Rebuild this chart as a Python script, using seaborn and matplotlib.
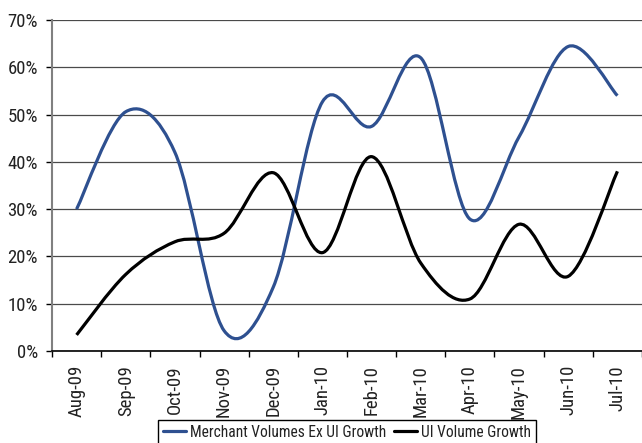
import numpy as np
import pandas as pd
import matplotlib
matplotlib.use("Agg")
import matplotlib.pyplot as plt
from matplotlib.path import Path
from matplotlib.patches import PathPatch
from matplotlib.lines import Line2D
from matplotlib.ticker import PercentFormatter
import seaborn as sns

months = ["Aug-09", "Sep-09", "Oct-09", "Nov-09", "Dec-09", "Jan-10",
          "Feb-10", "Mar-10", "Apr-10", "May-10", "Jun-10", "Jul-10"]
merchant_ex_ui = [30.0, 50.6, 42.0, 4.3, 13.5, 52.7, 47.5, 62.0, 27.9, 45.3, 64.4, 54.0]
ui_volume = [3.4, 16.2, 23.1, 24.9, 37.7, 20.8, 41.1, 18.6, 11.0, 26.8, 15.8, 38.0]
series_names = ["Merchant Volumes Ex UI Growth", "UI Volume Growth"]
series_colors = ["#2E5090", "#000000"]
y_ticks = [0, 10, 20, 30, 40, 50, 60, 70]

sns.set_theme(style="white")
plt.rcParams["font.family"] = ["Roboto Condensed", "DejaVu Sans"]

df = pd.DataFrame({
    "month": months * 2,
    "growth": merchant_ex_ui + ui_volume,
    "series": [series_names[0]] * len(months) + [series_names[1]] * len(months),
})

fig = plt.figure(figsize=(6.42, 4.43), dpi=100)
ax = fig.add_axes([52 / 642, 1 - 351 / 443, 1 - 52 / 642, (351 - 20) / 443])

sns.lineplot(data=df, x="month", y="growth", hue="series", sort=False,
             palette=dict(zip(series_names, series_colors)), legend=False, ax=ax)


def smooth_path(x, y):
    """Cubic Bezier path through the points (Catmull-Rom style tangents)."""
    x = np.asarray(x, float)
    y = np.asarray(y, float)
    n = len(x)
    verts = [(x[0], y[0])]
    codes = [Path.MOVETO]
    for i in range(n - 1):
        i0 = max(i - 1, 0)
        i3 = min(i + 2, n - 1)
        c1 = (x[i] + (x[i + 1] - x[i0]) / 6, y[i] + (y[i + 1] - y[i0]) / 6)
        c2 = (x[i + 1] - (x[i3] - x[i]) / 6, y[i + 1] - (y[i3] - y[i]) / 6)
        verts += [c1, c2, (x[i + 1], y[i + 1])]
        codes += [Path.CURVE4] * 3
    return Path(verts, codes)


# Replace the straight segments with smoothed curves through the same points
for line, color in zip(list(ax.lines), series_colors):
    xd, yd = line.get_xdata(), line.get_ydata()
    line.remove()
    ax.add_patch(PathPatch(smooth_path(xd, yd), facecolor="none", edgecolor=color,
                           linewidth=2.3, capstyle="butt", joinstyle="round", zorder=3))

ax.set_xlim(-0.5, len(months) - 0.5)
ax.set_ylim(0, 70)
ax.set_yticks(y_ticks)
ax.yaxis.set_major_formatter(PercentFormatter(decimals=0))
ax.set_xticks(range(len(months)))
ax.set_xticklabels(months, rotation=90)
ax.set_xticks(np.arange(-0.5, len(months), 1.0), minor=True)
ax.set_xlabel("")
ax.set_ylabel("")

ax.grid(axis="y", color="#4a4a4a", linewidth=0.9)
ax.set_axisbelow(True)
for side in ["top", "right"]:
    ax.spines[side].set_visible(False)
ax.spines["left"].set_color("#808080")
ax.spines["left"].set_linewidth(1.5)
ax.spines["bottom"].set_color("#000000")
ax.spines["bottom"].set_linewidth(1.2)

ax.tick_params(axis="y", which="major", direction="out", length=4, width=1,
               color="#000000", pad=6, labelsize=13.5, labelcolor="#222222", left=True)
ax.tick_params(axis="x", which="major", length=0, pad=10, labelsize=13.5,
               labelcolor="#222222")
ax.tick_params(axis="x", which="minor", direction="out", length=4, width=1,
               color="#000000", bottom=True)

handles = [Line2D([0], [0], color=c, linewidth=2.3) for c in series_colors]
leg = fig.legend(handles, series_names, loc="upper center",
                 bbox_to_anchor=(347 / 642, 1 - 420 / 443), ncol=2, frameon=True,
                 fancybox=False, framealpha=1, edgecolor="#000000", fontsize=11.2,
                 handlelength=1.45, handletextpad=0.25, columnspacing=0.55,
                 borderpad=0.3, borderaxespad=0)
leg.get_frame().set_linewidth(1.0)
for t in leg.get_texts():
    t.set_color("#222222")

fig.savefig("out.png", dpi=100)
